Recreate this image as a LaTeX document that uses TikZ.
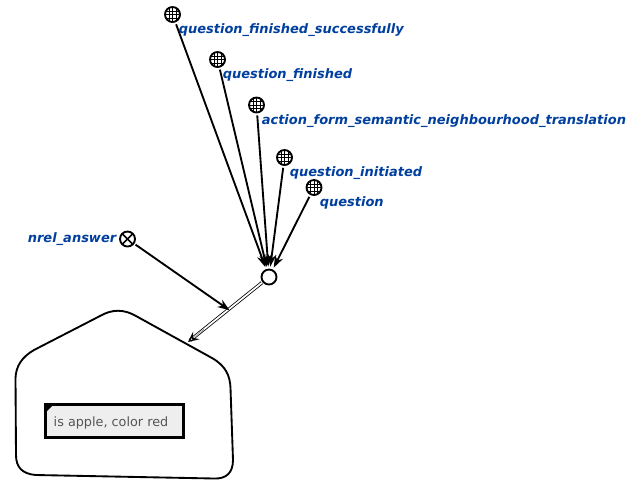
\documentclass[tikz,border=0pt]{standalone}
\usepackage{fontspec}
\setmainfont{DejaVu Sans}
\usetikzlibrary{positioning,arrows.meta,calc}
\definecolor{colorwhite}{RGB}{255,255,255}
\definecolor{colorblack}{RGB}{0,0,0}
\definecolor{colorlabel}{RGB}{0,63,158}
\definecolor{colorlink}{RGB}{238,238,238}
\definecolor{colorlinktext}{RGB}{85,85,85}

\begin{document}
\begin{tikzpicture}[
    x=0.75pt, y=-0.75pt,
    title/.style={text=colorlabel,font={\fontsize{9.75pt}{12pt}\selectfont\bfseries\itshape},inner sep=0pt,anchor=west},
    globe/.style={circle,draw=colorblack,line width=1.4pt,fill=colorwhite,minimum size=11.25pt,inner sep=0pt,
        path picture={
            \foreach \i in {-1,0,1} {
                \draw[line width=0.45pt] ($(path picture bounding box.center)+(\i*3.4,-9)$) -- ++(0,18);
                \draw[line width=0.45pt] ($(path picture bounding box.center)+(-9,\i*3.4)$) -- ++(18,0);
            }
        }},
    relation/.style={circle,draw=colorblack,line width=1.4pt,fill=colorwhite,minimum size=11.25pt,inner sep=0pt,
        path picture={
            \draw[line width=1.2pt] (path picture bounding box.south west) -- (path picture bounding box.north east);
            \draw[line width=1.2pt] (path picture bounding box.north west) -- (path picture bounding box.south east);
        }},
    hubnode/.style={circle,draw=colorblack,line width=1.4pt,fill=colorwhite,minimum size=11.25pt,inner sep=0pt},
    member/.style={-{Stealth[length=9pt,width=6.5pt]},colorblack,line width=1.4pt,shorten <=1.5pt,shorten >=1.5pt},
    arc/.style={colorblack,line width=0.6pt,double=colorwhite,double distance=1.3pt,shorten <=0.5pt,shorten >=2pt},
    arctip/.style={-{Stealth[open,length=8pt,width=7.5pt,inset=3pt,line width=1pt]},colorblack,line width=0.1pt},
    contour/.style={colorblack,line width=1.4pt,fill=colorwhite},
    linkbox/.style={draw=colorblack,line width=2.6pt,fill=colorlink,minimum width=103.2pt,minimum height=24.4pt,inner sep=0pt,
        text height=9.6pt,text depth=1.4pt,text=colorlinktext,font={\fontsize{9.6pt}{11pt}\selectfont}},
]
    \useasboundingbox (0,0) rectangle (635,494);

    % Contour
    \draw[contour] (100,316) .. controls (112,309) and (124,309) .. (136,316)
        -- (212,358) .. controls (226,366) and (230,376) .. (230.5,388)
        -- (233,460) .. controls (233,473) and (226,479) .. (214,478.5)
        -- (36,475) .. controls (22,474) and (16,467) .. (16,455)
        -- (15.5,378) .. controls (16,366) and (22,357) .. (34,350)
        -- cycle;
    \coordinate (contouredge) at (188,342);

    % Link
    \node[linkbox] at (114.5,421) (link) {is apple, color red\kern5.25pt};
    \fill[colorblack] (47,406) -- (52,406) -- (47,411) -- cycle;

    % Keynodes
    \node[globe] at (172.5,14.5) (finishedok) {};
    \node[globe] at (217.5,59.5) (finished) {};
    \node[globe] at (256.5,105) (translation) {};
    \node[globe] at (284.5,157.5) (initiated) {};
    \node[globe] at (314,187.5) (question) {};
    \node[relation] at (127.5,239) (answer) {};
    \node[hubnode] at (269,277) (hub) {};

    % Labels
    \node[title] at (178.5,30) (finishedoktext) {question\_finished\_successfully};
    \node[title] at (222.5,75.5) (finishedtext) {question\_finished};
    \node[title] at (261.5,121.5) (translationtext) {action\_form\_semantic\_neighbourhood\_translation};
    \node[title] at (289.5,173) (initiatedtext) {question\_initiated};
    \node[title] at (319.5,202.5) (questiontext) {question};
    \node[title,anchor=east] at (116.5,239) (answertext) {nrel\_answer};

    % Arrows
    \draw[arc] (hub) -- (contouredge); % hub to contour
    \draw[arctip] ($(hub)!0.8!(contouredge)$) -- (contouredge);
    \coordinate (arcmid) at ($(hub)!0.5!(contouredge)$);
    \draw[member] (finishedok) -- (hub);
    \draw[member] (finished) -- (hub);
    \draw[member] (translation) -- (hub);
    \draw[member] (initiated) -- (hub);
    \draw[member] (question) -- (hub);
    \draw[member,shorten >=-1pt,shorten <=1pt] (answer) -- (arcmid);
\end{tikzpicture}
\end{document}
